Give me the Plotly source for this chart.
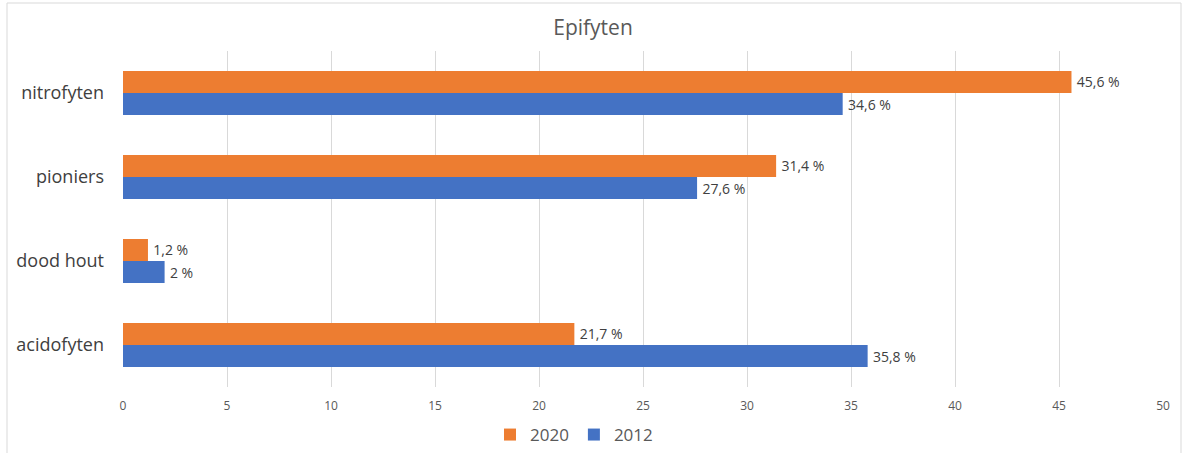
import plotly.graph_objects as go

# Categories from bottom to top of the chart
categories = ["acidofyten", "dood hout", "pioniers", "nitrofyten"]
values_2012 = [35.8, 2.0, 27.6, 34.6]
values_2020 = [21.7, 1.2, 31.4, 45.6]
x_ticks = [0, 5, 10, 15, 20, 25, 30, 35, 40, 45, 50]

ORANGE = "#ED7D31"
BLUE = "#4472C4"
FONT = "Open Sans"


def pct_label(v):
    s = f"{v:.1f}".rstrip("0").rstrip(".")
    return "\u2009" + s.replace(".", ",") + " %"


fig = go.Figure()
fig.add_trace(go.Bar(
    name="2012", y=categories, x=values_2012, orientation="h",
    marker=dict(color=BLUE, line=dict(width=0)),
    text=[pct_label(v) for v in values_2012], textposition="outside",
    textfont=dict(family=FONT, size=14, color="#404040"), cliponaxis=False,
))
fig.add_trace(go.Bar(
    name="2020", y=categories, x=values_2020, orientation="h",
    marker=dict(color=ORANGE, line=dict(width=0)),
    text=[pct_label(v) for v in values_2020], textposition="outside",
    textfont=dict(family=FONT, size=14, color="#404040"), cliponaxis=False,
))

L, R, T, B = 123, 25, 51, 66
W, H = 1188, 453
pw, ph = W - L - R, H - T - B

# Outer chart frame
fig.add_shape(
    type="rect", xref="paper", yref="paper",
    x0=(7 - L) / pw, x1=(1181 - L) / pw,
    y0=-(H + 10 - (H - B)) / ph, y1=((H - B) - 3) / ph,
    line=dict(color="#D9D9D9", width=1), fillcolor="rgba(0,0,0,0)", layer="below",
)

fig.update_layout(
    width=W, height=H,
    margin=dict(l=L, r=R, t=T, b=B, autoexpand=False),
    paper_bgcolor="white", plot_bgcolor="white",
    barmode="group", bargap=0.476, bargroupgap=0,
    title=dict(text="Epifyten", x=(593 - L) / pw, xref="paper", xanchor="center",
               y=1 - 28 / H, yref="container", yanchor="middle",
               font=dict(family=FONT, size=21, color="#595959")),
    showlegend=True,
    legend=dict(orientation="h", traceorder="reversed",
                x=(574 - L) / pw, xanchor="center", y=-(435 - (H - B)) / ph, yanchor="middle",
                font=dict(family=FONT, size=17, color="#595959"),
                itemwidth=30, bgcolor="rgba(0,0,0,0)"),
    xaxis=dict(range=[0, 50], tickvals=x_ticks, showgrid=True, gridcolor="#D9D9D9",
               gridwidth=1, zeroline=False, showline=False, ticks="",
               ticklabelstandoff=10, automargin=False,
               tickfont=dict(family=FONT, size=12, color="#595959")),
    yaxis=dict(categoryorder="array", categoryarray=categories, showgrid=False,
               zeroline=False, showline=False, ticks="", ticklabelstandoff=18,
               automargin=False,
               tickfont=dict(family=FONT, size=18, color="#404040")),
)

fig.write_html("out.html")
